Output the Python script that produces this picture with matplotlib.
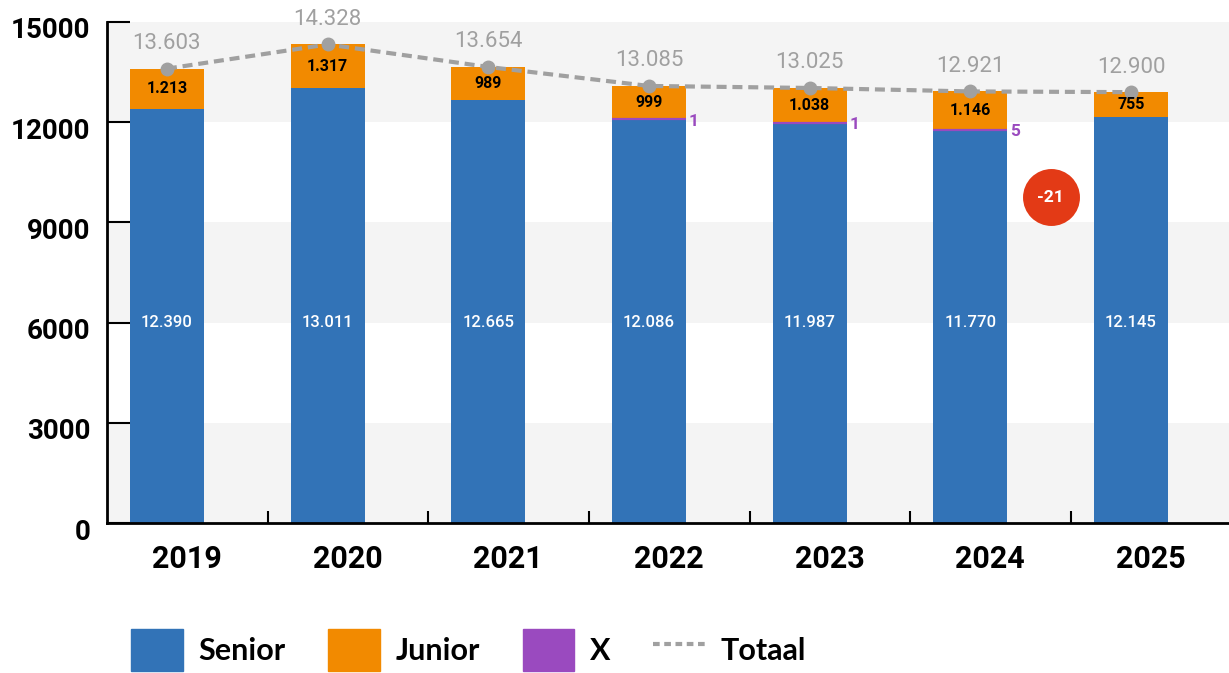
import matplotlib
matplotlib.use("Agg")
import matplotlib.pyplot as plt
from matplotlib.patches import Patch
from matplotlib.lines import Line2D
from matplotlib.transforms import ScaledTranslation, blended_transform_factory

years = ["2019", "2020", "2021", "2022", "2023", "2024", "2025"]
senior = [12390, 13011, 12665, 12086, 11987, 11770, 12145]
junior = [1213, 1317, 989, 999, 1038, 1146, 755]
x_vals = [0, 0, 0, 1, 1, 5, 0]
totaal = [13603, 14328, 13654, 13085, 13025, 12921, 12900]
delta_label = "-21"
yticks = [0, 3000, 6000, 9000, 12000, 15000]

C_SEN = "#3273b7"
C_JUN = "#f28a00"
C_X = "#9a4abf"
C_TOT = "#a0a0a0"
C_BAND = "#f4f4f4"

def fmt(v):
    return f"{v:,}".replace(",", ".")

plt.rcParams['font.family'] = ['Roboto', 'DejaVu Sans']

fig = plt.figure(figsize=(12.29, 6.73), dpi=100)
ax = fig.add_axes([107/1229, 150/673, 1 - 107/1229, 501/673])

pos = list(range(len(years)))
w = 0.46
x_left, x_right = -0.373, 6.61

# background bands
for lo in (0, 6000, 12000):
    ax.axhspan(lo, lo + 3000, color=C_BAND, zorder=0, lw=0)

ax.bar(pos, senior, width=w, color=C_SEN, zorder=2, lw=0)
ax.bar(pos, x_vals, bottom=senior, width=w, color=C_X, edgecolor=C_X,
       lw=[1.6 if v else 0 for v in x_vals], zorder=3)
bot_j = [s + xv for s, xv in zip(senior, x_vals)]
ax.bar(pos, junior, bottom=bot_j, width=w, color=C_JUN, zorder=2, lw=0)

ax.plot(pos, totaal, color=C_TOT, lw=3, ls=(0, (2.4, 1.4)), marker='o',
        markersize=9, zorder=4)

tr_mid = blended_transform_factory(ax.transData, ax.transAxes)
for i in pos:
    ax.text(i, 0.4, fmt(senior[i]), transform=tr_mid, ha='center', va='center',
            color='white', fontsize=12, fontweight='medium', zorder=5)
    ax.text(i, bot_j[i] + junior[i] / 2, fmt(junior[i]), ha='center', va='center',
            color='black', fontsize=11.5, fontweight='bold', zorder=5)
    ax.annotate(fmt(totaal[i]), (i, totaal[i]), xytext=(0, 18),
                textcoords='offset points', ha='center', va='center',
                color=C_TOT, fontsize=16, zorder=5)
    if x_vals[i]:
        ax.annotate(str(x_vals[i]), (i + w / 2, senior[i]), xytext=(2, -1.5),
                    textcoords='offset points', ha='left', va='center',
                    color=C_X, fontsize=12.5, fontweight='bold', zorder=5)

# delta bubble next to 2024
ax.plot([5.5], [9750], marker='o', markersize=41, color='#e33a16',
        markeredgewidth=0, zorder=6)
ax.text(5.5, 9750, delta_label, ha='center', va='center', color='white',
        fontsize=12.5, fontweight='bold', zorder=7)

ax.set_xlim(x_left, x_right)
ax.set_ylim(0, 15000)
ax.set_yticks(yticks)
ax.set_yticklabels([str(v) for v in yticks], fontsize=20, fontweight='bold')
ax.set_xticks(pos)
ax.set_xticklabels(years, fontsize=22, fontweight='bold')
ax.set_xticks([x_left + k for k in range(1, 7)], minor=True)
ax.tick_params(axis='x', which='major', length=0, pad=15)
ax.tick_params(axis='x', which='minor', direction='in', length=9, width=1.5)
ax.tick_params(axis='y', direction='in', length=16.5, width=1.5, pad=12)
for lab in ax.get_yticklabels():
    lab.set_transform(lab.get_transform() + ScaledTranslation(0, -0.06, fig.dpi_scale_trans))
for lab in ax.get_xticklabels():
    lab.set_transform(lab.get_transform() + ScaledTranslation(0.20, 0, fig.dpi_scale_trans))

for s in ('top', 'right'):
    ax.spines[s].set_visible(False)
for s in ('left', 'bottom'):
    ax.spines[s].set_linewidth(2)
    ax.spines[s].set_zorder(6)

handles = [Patch(color=C_SEN), Patch(color=C_JUN), Patch(color=C_X),
           Line2D([0], [0], color=C_TOT, lw=3, ls=(0, (1.6, 1.1)))]
labels = ["Senior", "Junior", "X", "Totaal"]
fig.legend(handles, labels, loc='center left', bbox_to_anchor=(131/1229, 23/673),
           ncol=4, frameon=False, prop={'family': 'Lato', 'weight': 'bold', 'size': 22},
           handlelength=1.7, handleheight=1.75, handletextpad=0.5,
           columnspacing=1.4, borderaxespad=0, borderpad=0)

fig.savefig("out.png", dpi=100)
